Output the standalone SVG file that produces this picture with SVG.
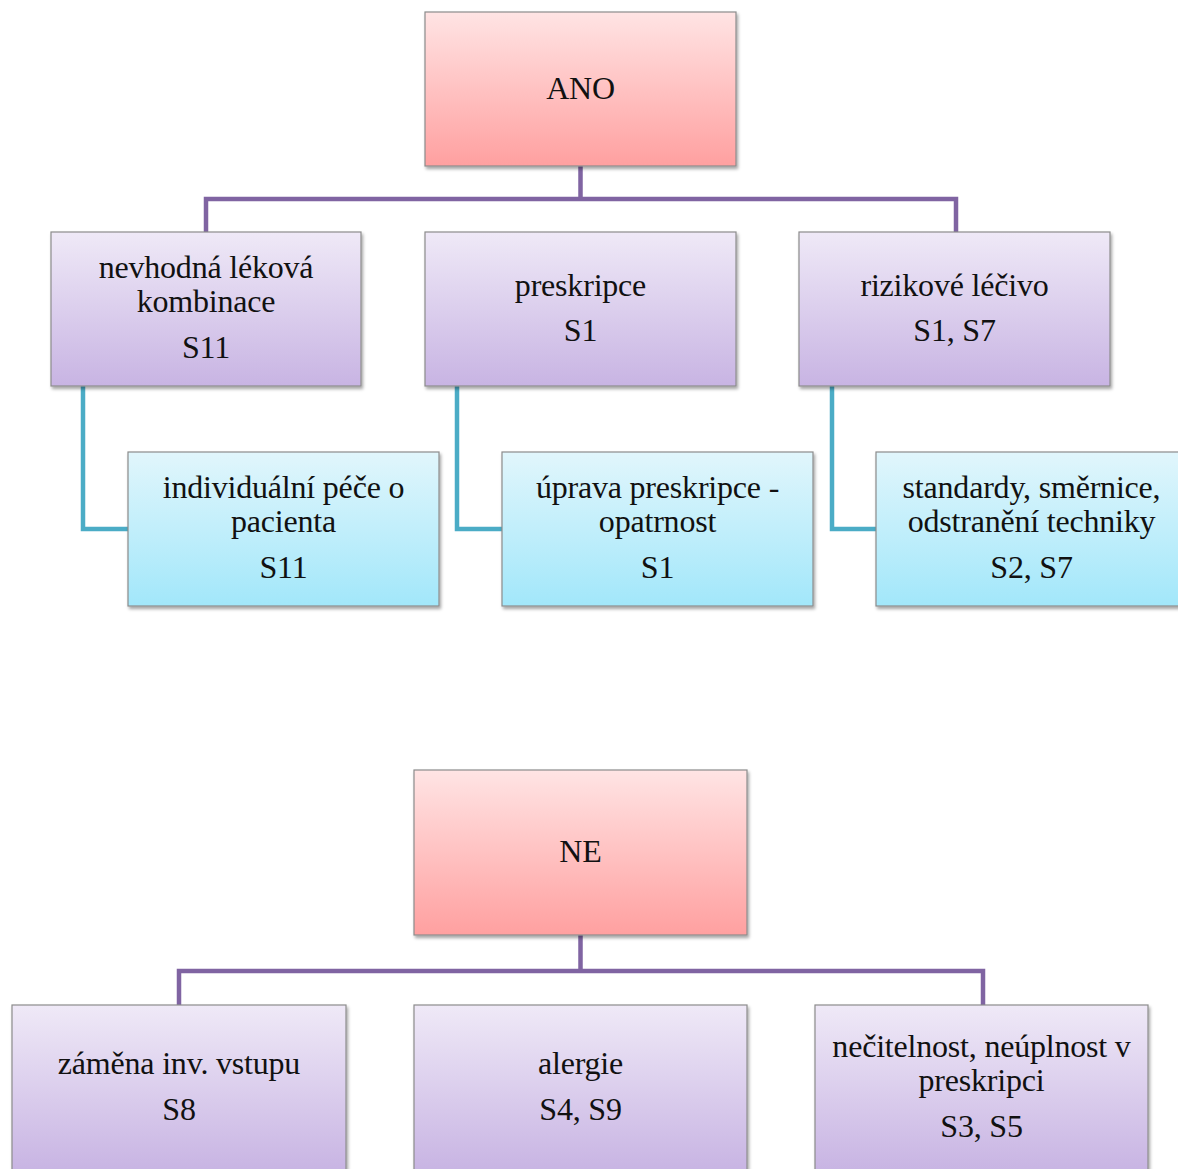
<svg xmlns="http://www.w3.org/2000/svg" width="1178" height="1169" viewBox="0 0 1178 1169">
<defs>
<linearGradient id="gPink" x1="0" y1="0" x2="0" y2="1"><stop offset="0" stop-color="#FFE4E4"/><stop offset="1" stop-color="#FFA0A0"/></linearGradient>
<linearGradient id="gPurple" x1="0" y1="0" x2="0" y2="1"><stop offset="0" stop-color="#EFE9F7"/><stop offset="1" stop-color="#C8B4E3"/></linearGradient>
<linearGradient id="gCyan" x1="0" y1="0" x2="0" y2="1"><stop offset="0" stop-color="#E1F6FC"/><stop offset="1" stop-color="#A2E7FA"/></linearGradient>
<filter id="sh" x="-5%" y="-5%" width="112%" height="115%"><feDropShadow dx="1.5" dy="2.5" stdDeviation="1.8" flood-color="#000" flood-opacity="0.35"/></filter>
</defs>
<style>
.box{stroke:#8C8C8C;stroke-width:1.2;filter:url(#sh)}
.pink{fill:url(#gPink)}
.purple{fill:url(#gPurple)}
.cyan{fill:url(#gCyan)}
text{font-family:"Liberation Serif","Times New Roman",serif;font-size:32px;fill:#111;text-anchor:middle;letter-spacing:-0.2px}
.cp{fill:none;stroke:#8064A2;stroke-width:4.5}
.cc{fill:none;stroke:#4BACC6;stroke-width:4.5}
</style>
<rect width="1178" height="1169" fill="#fff"/>
<g id="connectors">
<path class="cp" d="M580.5 166 V199 M206 234 V199 H956 V234"/>
<path class="cc" d="M83 386 V529 H128"/>
<path class="cc" d="M457 386 V529 H503"/>
<path class="cc" d="M832 386 V529 H877"/>
<path class="cp" d="M580.5 935 V971 M179 1007 V971 H983 V1007"/>
</g>
<g id="ano"><rect class="box pink" x="425" y="12" width="311" height="154"/><text x="580.5" y="99">ANO</text></g>
<g id="nevhodna"><rect class="box purple" x="51" y="232" width="310" height="154"/><text x="206" y="278">nevhodná léková</text><text x="206" y="312">kombinace</text><text x="206" y="358">S11</text></g>
<g id="preskripce"><rect class="box purple" x="425" y="232" width="311" height="154"/><text x="580.5" y="296">preskripce</text><text x="580.5" y="341">S1</text></g>
<g id="rizikove"><rect class="box purple" x="799" y="232" width="311" height="154"/><text x="954.5" y="296">rizikové léčivo</text><text x="954.5" y="341">S1, S7</text></g>
<g id="individualni"><rect class="box cyan" x="128" y="452" width="311" height="154"/><text x="283.5" y="498">individuální péče o</text><text x="283.5" y="532">pacienta</text><text x="283.5" y="578">S11</text></g>
<g id="uprava"><rect class="box cyan" x="502" y="452" width="311" height="154"/><text x="657.5" y="498">úprava preskripce -</text><text x="657.5" y="532">opatrnost</text><text x="657.5" y="578">S1</text></g>
<g id="standardy"><rect class="box cyan" x="876" y="452" width="311" height="154"/><text x="1031.5" y="498">standardy, směrnice,</text><text x="1031.5" y="532">odstranění techniky</text><text x="1031.5" y="578">S2, S7</text></g>
<g id="ne"><rect class="box pink" x="414" y="770" width="333" height="165"/><text x="580.5" y="862">NE</text></g>
<g id="zamena"><rect class="box purple" x="12" y="1005" width="334" height="166"/><text x="179" y="1074">záměna inv. vstupu</text><text x="179" y="1120">S8</text></g>
<g id="alergie"><rect class="box purple" x="414" y="1005" width="333" height="166"/><text x="580.5" y="1074">alergie</text><text x="580.5" y="1120">S4, S9</text></g>
<g id="necitelnost"><rect class="box purple" x="815" y="1005" width="333" height="166"/><text x="981.5" y="1057">nečitelnost, neúplnost v</text><text x="981.5" y="1091">preskripci</text><text x="981.5" y="1137">S3, S5</text></g>
</svg>
